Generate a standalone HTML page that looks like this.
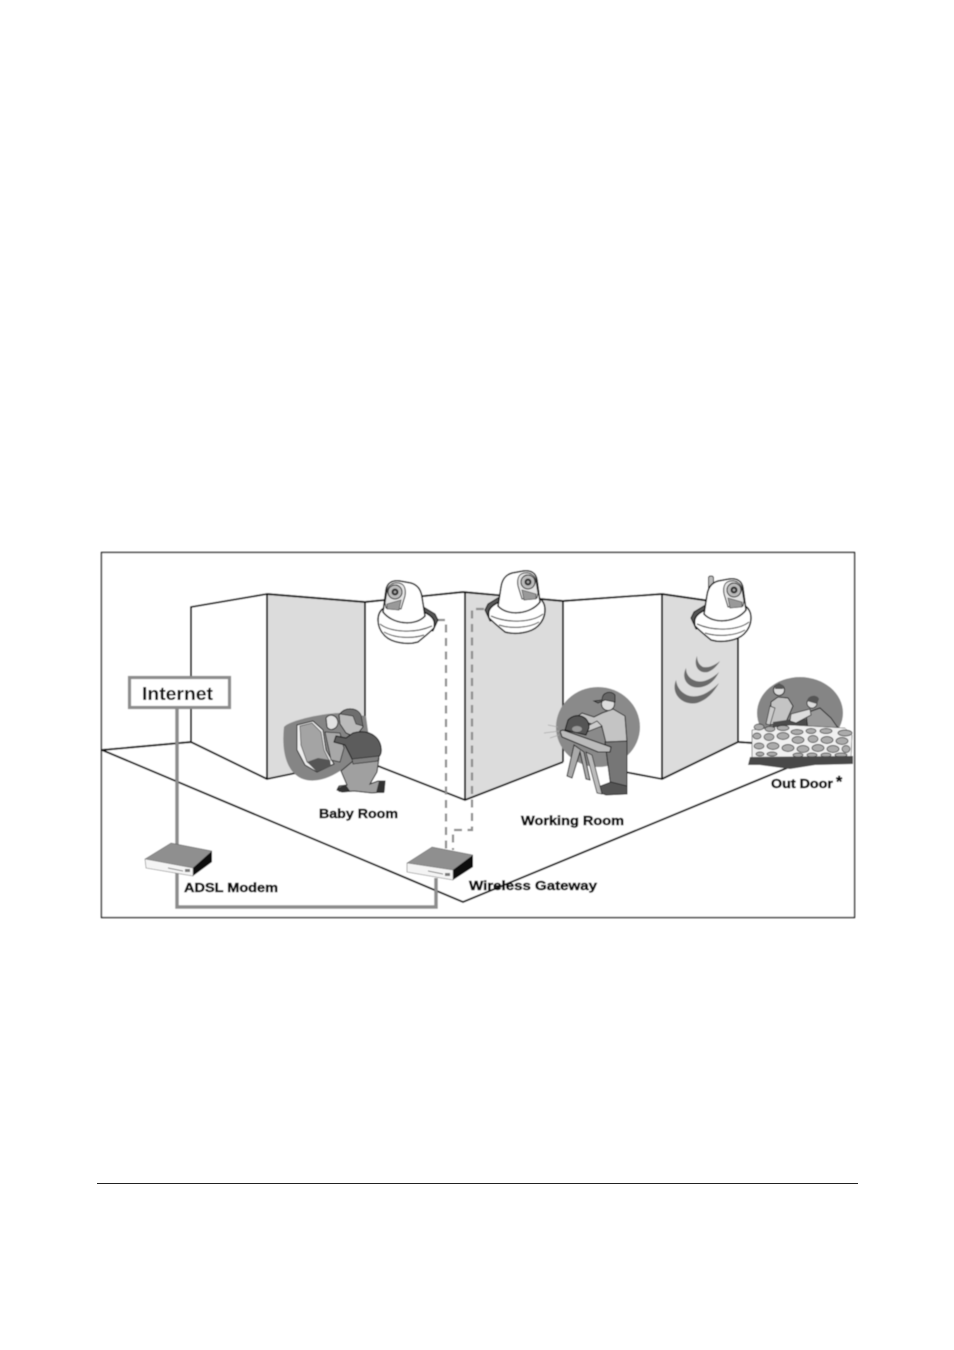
<!DOCTYPE html>
<html><head><meta charset="utf-8"><style>
html,body{margin:0;padding:0;background:#fff}
svg{display:block;position:absolute;left:0;top:0}
text{font-family:"Liberation Sans",sans-serif;font-weight:bold;fill:#111}
</style></head><body>
<svg width="954" height="1350" viewBox="0 0 954 1350" xmlns="http://www.w3.org/2000/svg">
<defs>
<filter id="b" x="-5%" y="-5%" width="110%" height="110%"><feGaussianBlur stdDeviation="0.5"/></filter>
<g id="cam">
  <path d="M422,606 L435,614 L438,620 L433,631 L424,630 Z" fill="#555" stroke="#111" stroke-width="1"/>
  <path d="M378,620 C378,612 382,608 388,606 L424,612 C432,616 436,620 434,628 C428,634 424,637 418,642 C408,645 392,643 385,636 C380,631 378,626 378,620 Z" fill="#fff" stroke="#111" stroke-width="1.500"/>
  <path d="M380,624 C390,632 414,634 432,626" fill="none" stroke="#222" stroke-width="1"/>
  <path d="M384,632 C394,638 412,639 424,635" fill="none" stroke="#222" stroke-width="1"/>
  <path d="M383,612 L386,590 C387,583 392,580 400,581 L411,583 C418,585 421,590 422,597 L425,616 C415,627 392,624 383,612 Z" fill="#fff" stroke="#111" stroke-width="1.500"/>
  <path d="M385,603 L387,591 C388,585 393,582 399,583 C405,584 406,590 405,596 L401,609 L386,608 Z" fill="#e4e4e4" stroke="#222" stroke-width="1"/>
  <circle cx="395" cy="592" r="7" fill="#bbb" stroke="#111" stroke-width="1"/>
  <circle cx="395" cy="592" r="3.500" fill="#333"/>
  <circle cx="395" cy="592" r="1.300" fill="#aaa"/>
  <path d="M387,604 L401,600 L399,610 L387,609 Z" fill="#999" stroke="#222" stroke-width=".6"/>
</g>
</defs>
<g filter="url(#b)">
<rect x="101.500" y="552.500" width="753" height="365" fill="#fff" stroke="#111" stroke-width="1.300"/>

<!-- gray wall panels -->
<polygon points="267,594 365,602 365,761 267,779" fill="#dcdcdc"/>
<polygon points="465,592 563,601 563,762 465,800" fill="#dcdcdc"/>
<polygon points="662,594 738,605 738,742 662,779" fill="#dcdcdc"/>

<!-- wall lines -->
<g fill="none" stroke="#111" stroke-width="1.900" stroke-linejoin="round">
  <polyline points="191,742 191,607 267,594 365,602 463,592 563,601 662,594 738,605 738,742 753,743"/>
  <line x1="267" y1="594" x2="267" y2="779"/>
  <line x1="365" y1="602" x2="365" y2="760"/>
  <line x1="465" y1="592" x2="465" y2="800"/>
  <line x1="563" y1="601" x2="563" y2="762"/>
  <line x1="662" y1="594" x2="662" y2="779"/>
  <polyline points="102,750 191,742 267,779 296,773"/>
  <polyline points="378,766 465,800 563,762"/>
  <polyline points="625,772 662,779 738,742"/>
  <polyline points="102,750 463,902 787,768"/>
</g>

<!-- signal arcs -->
<g fill="#6a6a6a">
  <path d="M676,680 C670,695 684,706 697,703 C707,700 714,692 719,683 C710,692 700,698 690,696 C682,694 677,688 676,680 Z"/>
  <path d="M686,668 C680,680 690,690 702,687 C710,685 715,680 719,672 C712,679 703,683 696,681 C690,679 686,675 686,668 Z"/>
  <path d="M697,656 C693,666 699,674 708,672 C713,670 717,666 720,661 C714,666 708,668 703,667 C699,665 697,661 697,656 Z"/>
</g>

<!-- baby room -->
<path d="M284,727 C290,720 325,713 340,713 L366,716 L372,760 L340,771 C322,783 305,783 296,775 C284,765 282,745 284,727 Z" fill="#858585"/>
<path d="M297,725 L313,721 L323,730 L326,750 L334,764 L317,772 L305,765 L297,750 Z" fill="#eee" stroke="#222" stroke-width="1"/>
<path d="M300,726 L312,723 L321,732 L324,750 L330,762 L317,769 L307,762 L301,745 Z" fill="#a4a4a4" stroke="#444" stroke-width=".7"/>
<path d="M307,762 L318,758 L330,760 L331,766 L317,772 Z" fill="#555"/>
<path d="M325,732 L340,733 L344,748 L340,762 L331,760 L329,750 Z" fill="#a8a8a8" stroke="#222" stroke-width=".8"/>
<path d="M326,718 C330,713 337,715 338,722 C338,729 330,732 327,727 Z" fill="#e2e2e2" stroke="#222" stroke-width="1"/>
<path d="M339,715 C344,707 356,707 360,714 L363,727 L355,737 L346,733 L340,724 Z" fill="#bbb" stroke="#222" stroke-width="1"/>
<path d="M340,714 C345,707 357,707 361,715 L363,726 L356,724 L353,716 Z" fill="#6e6e6e" stroke="#222" stroke-width=".7"/>
<path d="M353,733 C372,728 383,740 381,753 C379,760 372,762 358,761 L352,759 L345,745 L334,742 L336,736 L346,738 Z" fill="#5c5c5c" stroke="#111" stroke-width="1"/>
<path d="M353,761 L379,758 L377,772 L370,784 L378,781 L385,781 L384,792 L372,793 L354,791 L342,792 L337,790 L339,786 L347,785 L341,771 Z" fill="#a0a0a0" stroke="#222" stroke-width="1"/>
<path d="M337,788 L346,785 L350,791 L339,792 Z" fill="#333"/>
<path d="M379,781 L385,781 L384,793 L376,793 Z" fill="#333"/>
<path d="M352,759 L379,756 L378,761 L353,764 Z" fill="#808080" stroke="#222" stroke-width=".7"/>

<!-- working room -->
<ellipse cx="598" cy="727" rx="42" ry="40" fill="#8a8a8a"/>
<path d="M602,713 L613,709 L625,716 L627,742 L606,743 L602,727 L585,722 L578,716 L582,713 L594,717 Z" fill="#c4c4c4" stroke="#222" stroke-width="1"/>
<path d="M602,726 L584,733 L580,730 L597,721 Z" fill="#ccc" stroke="#222" stroke-width=".8"/>
<circle cx="608" cy="704" r="6.500" fill="#ddd" stroke="#222" stroke-width="1"/>
<path d="M602,700 C602,692 611,690 615,695 L615,702 L605,700 L598,703 L594,701 Z" fill="#666" stroke="#111" stroke-width=".8"/>
<path d="M605,742 L627,741 L627,787 L611,788 Z" fill="#767676" stroke="#222" stroke-width="1"/>
<path d="M598,787 L611,782 L627,786 L627,794 L606,795 L598,792 Z" fill="#555" stroke="#111" stroke-width=".8"/>
<path d="M568,720 C577,711 590,717 589,728 L586,735 L565,730 Z" fill="#555" stroke="#111" stroke-width="1"/>
<ellipse cx="577" cy="729" rx="5" ry="3" fill="#999"/>
<path d="M560,731 L563,730 L611,747 L610,752 L598,752 L562,737 Z" fill="#bbb" stroke="#111" stroke-width="1"/>
<path d="M574,745 L567,776 L572,778 L580,752 L586,779 L590,780 L584,752 Z" fill="#aaa" stroke="#222" stroke-width="1"/>
<path d="M586,752 L597,793 L602,794 L592,755 Z" fill="#bbb" stroke="#222" stroke-width=".8"/>
<g stroke="#aaa" stroke-width=".7"><line x1="560" y1="731" x2="544" y2="733"/><line x1="558" y1="727" x2="548" y2="725"/><line x1="559" y1="735" x2="550" y2="738"/></g>

<!-- out door -->
<ellipse cx="800" cy="713" rx="43" ry="36" fill="#858585"/>
<path d="M771,702 L778,697 L788,698 L793,706 L786,722 L770,725 Z" fill="#c4c4c4" stroke="#222" stroke-width="1"/>
<circle cx="779" cy="690" r="5.500" fill="#ddd" stroke="#222" stroke-width="1"/>
<path d="M775,686 L779,683 L784,686 L783,689 L775,689 Z" fill="#555"/>
<path d="M770,706 L766,724 L770,725 L775,708 Z" fill="#ccc" stroke="#222" stroke-width=".7"/>
<path d="M773,722 L800,718 L838,726 L836,736 L772,736 Z" fill="#4c4c4c"/>
<path d="M806,713 L820,708 L831,718 L838,728 L808,730 Z" fill="#999" stroke="#222" stroke-width="1"/>
<path d="M791,714 L810,709 L811,715 L796,723 L790,721 Z" fill="#ddd" stroke="#222" stroke-width=".8"/>
<circle cx="812" cy="703" r="5" fill="#ddd" stroke="#222" stroke-width=".8"/>
<path d="M807,701 C808,695 817,694 819,699 L817,704 Z" fill="#555"/>

<path d="M752,730 L790,725 L845,728 L852,735 L851,760 L752,760 Z" fill="#f0f0f0" stroke="#222" stroke-width=".5"/>
<g fill="#ababab" stroke="#222" stroke-width=".7">
<ellipse cx="759" cy="727" rx="5" ry="3"/><ellipse cx="770" cy="729" rx="5" ry="2.500"/><ellipse cx="783" cy="728" rx="6" ry="2.500"/><ellipse cx="797" cy="732" rx="6" ry="2.500"/><ellipse cx="811" cy="731" rx="5" ry="2.500"/><ellipse cx="826" cy="731" rx="6" ry="2.500"/><ellipse cx="845" cy="733" rx="7" ry="3"/>
<ellipse cx="757" cy="736" rx="4" ry="3"/><ellipse cx="769" cy="737" rx="5" ry="3.500"/><ellipse cx="783" cy="736" rx="6" ry="3.500"/><ellipse cx="798" cy="740" rx="6" ry="3.500"/><ellipse cx="813" cy="739" rx="5" ry="3.500"/><ellipse cx="827" cy="740" rx="6" ry="3.500"/><ellipse cx="842" cy="741" rx="6" ry="3.500"/>
<ellipse cx="759" cy="746" rx="5" ry="3"/><ellipse cx="773" cy="746" rx="6" ry="3.500"/><ellipse cx="788" cy="748" rx="6" ry="3.500"/><ellipse cx="803" cy="749" rx="6" ry="3.500"/><ellipse cx="818" cy="748" rx="6" ry="3.500"/><ellipse cx="833" cy="749" rx="6" ry="3.500"/><ellipse cx="846" cy="749" rx="4" ry="3.500"/>
<ellipse cx="760" cy="754" rx="4" ry="2"/><ellipse cx="772" cy="754" rx="5" ry="2"/><ellipse cx="798" cy="755" rx="5" ry="2"/><ellipse cx="812" cy="755" rx="5" ry="2"/><ellipse cx="826" cy="755" rx="5" ry="2"/><ellipse cx="841" cy="755" rx="6" ry="2"/>
</g>
<path d="M750,757 L853,756 L853,764 L815,765 L790,769 L760,765 L748,765 Z" fill="#4a4a4a"/>

<!-- dashed cables -->
<g fill="none" stroke="#8c8c8c" stroke-width="2.200" stroke-dasharray="8 5.500">
  <polyline points="437,620 446,620 446,849"/>
  <polyline points="484,609 472,609 472,830 453,830 453,850"/>
</g>

<!-- solid cables -->
<polyline points="177,708 177,907 436,907 436,878" fill="none" stroke="#8c8c8c" stroke-width="3.500"/>

<!-- internet box -->
<rect x="129.500" y="677.500" width="100" height="30" fill="#fff" stroke="#8c8c8c" stroke-width="3.200"/>
<text x="142" y="700" font-size="18.500" textLength="71" lengthAdjust="spacingAndGlyphs">Internet</text>

<!-- ADSL modem -->
<polygon points="145,859 171,843 212,851 193,868" fill="#8f8f8f" stroke="#555" stroke-width=".5"/>
<polygon points="212,851 212,862 193,876 193,868" fill="#111"/>
<polygon points="145,859 193,868 193,876 146,868" fill="#f4f4f4" stroke="#777" stroke-width=".6"/>
<line x1="168" y1="868" x2="183" y2="871" stroke="#555" stroke-width=".8"/>
<rect x="185" y="869" width="5" height="3" fill="#777"/>

<!-- wireless gateway -->
<polygon points="407,863 432,847 473,855 453,870" fill="#8f8f8f" stroke="#555" stroke-width=".5"/>
<polygon points="473,855 473,867 453,880 453,870" fill="#111"/>
<polygon points="407,863 453,870 453,880 407,872" fill="#f4f4f4" stroke="#777" stroke-width=".6"/>
<line x1="428" y1="871" x2="443" y2="874" stroke="#555" stroke-width=".8"/>
<rect x="445" y="873" width="5" height="3" fill="#777"/>

<!-- cameras -->
<use href="#cam"/>
<use href="#cam" transform="translate(923,-10) scale(-1,1)"/>
<rect x="708.500" y="576" width="5" height="16" rx="2" fill="#bbb" stroke="#222" stroke-width="1"/>
<use href="#cam" transform="translate(1129,-2) scale(-1,1)"/>

<!-- labels -->
<g stroke="#111" stroke-width=".5">
<text x="319" y="818" font-size="13" textLength="79" lengthAdjust="spacingAndGlyphs">Baby Room</text>
<text x="521" y="825" font-size="13" textLength="103" lengthAdjust="spacingAndGlyphs">Working Room</text>
<text x="771" y="788" font-size="12.500" textLength="62" lengthAdjust="spacingAndGlyphs">Out Door</text>
<text x="184" y="892" font-size="13" textLength="94" lengthAdjust="spacingAndGlyphs">ADSL Modem</text>
<text x="469" y="890" font-size="13" textLength="128" lengthAdjust="spacingAndGlyphs">Wireless Gateway</text>
<text x="836" y="787" font-size="16">*</text>
</g>
</g>
<rect x="97" y="1183" width="761" height="1" fill="#222"/>
</svg>
</body></html>
